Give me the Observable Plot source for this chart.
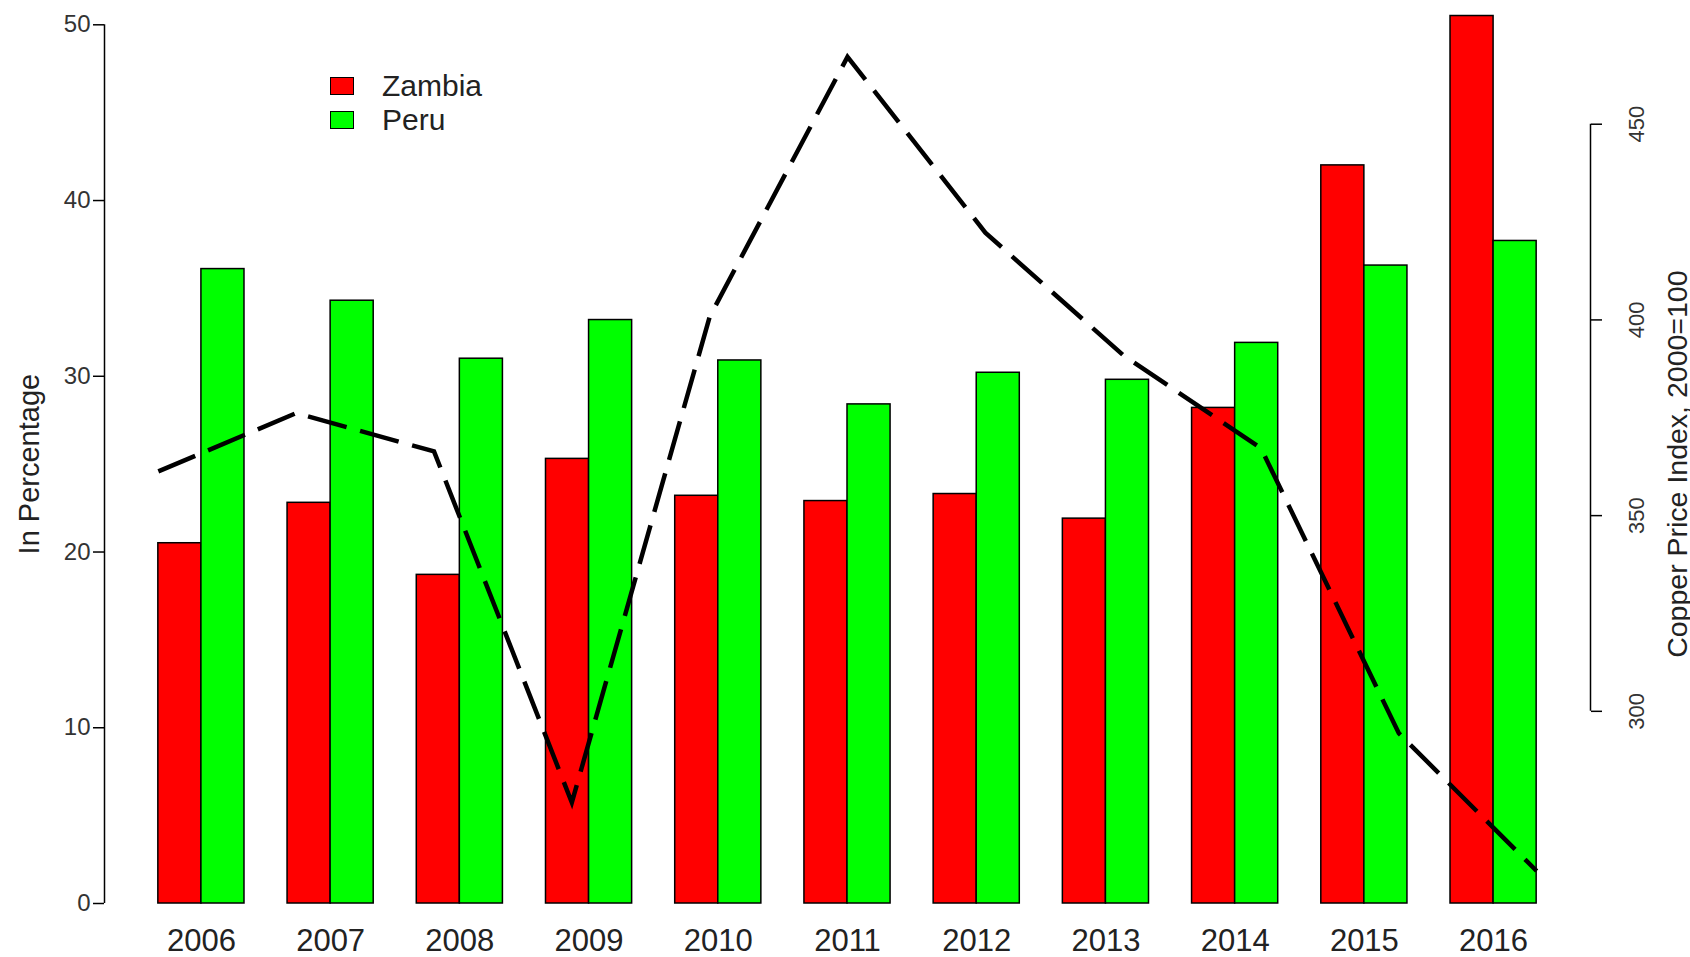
<!DOCTYPE html>
<html>
<head>
<meta charset="utf-8">
<script src="https://cdn.jsdelivr.net/npm/d3@7"></script>
<script src="https://cdn.jsdelivr.net/npm/@observablehq/plot@0.6"></script>
<style>
  html, body { margin: 0; padding: 0; background: #fff; }
  #wrap { position: relative; width: 1690px; height: 957px; font-family: "Liberation Sans", Arial, sans-serif; }
  #legend { position: absolute; left: 330px; top: 69px; font-size: 30px; color: #222; }
  .row { display: flex; align-items: center; height: 34px; }
  .sw { width: 24px; height: 18px; box-sizing: border-box; border: 1.5px solid #000; margin-right: 28px; }
</style>
</head>
<body>
<div id="wrap"><div id="legend"></div></div>
<script>
// ---- data ----
const years = ["2006","2007","2008","2009","2010","2011","2012","2013","2014","2015","2016"];
const zambia = [20.5, 22.8, 18.7, 25.3, 23.2, 22.9, 23.3, 21.9, 28.2, 42.0, 50.5];
const peru   = [36.1, 34.3, 31.0, 33.2, 30.9, 28.4, 30.2, 29.8, 31.9, 36.3, 37.7];
const copper = [361.3, 376.2, 366.4, 276.7, 400.8, 467.2, 422.3, 391.0, 367.2, 294.4, 259.2];
const leftTicks = [0, 10, 20, 30, 40, 50];
const copperTicks = [300, 350, 400, 450];
const seriesNames = ["Zambia", "Peru"];
const seriesColors = ["#ff0000", "#00ff00"];

// ---- scales config ----
const xDomain = [-0.25, 34.25];            // barplot units (group = 2 bars + 1 space)
const copperDomain = [250.9, 475.4];       // secondary axis range aligned with [0, 50]
const toPct = d3.scaleLinear(copperDomain, [0, 50]);

// ---- derived tables ----
const bars = years.flatMap((yr, i) => [
  {year: yr, series: seriesNames[0], value: zambia[i], x1: 1 + 3 * i, x2: 2 + 3 * i},
  {year: yr, series: seriesNames[1], value: peru[i],   x1: 2 + 3 * i, x2: 3 + 3 * i}
]);
const nBarsUnits = years.length * 3;
const line = copper.map((v, i) => ({year: years[i], x: 1 + i * (nBarsUnits - 1) / (copper.length - 1), v}));
const labels = years.map((yr, i) => ({year: yr, x: 2 + 3 * i}));

const chart = Plot.plot({
  width: 1690,
  height: 957,
  marginLeft: 104,
  marginRight: 100,
  marginTop: 24.3,
  marginBottom: 54,
  style: {fontFamily: "Liberation Sans, Arial, sans-serif", background: "#fff", color: "#222", overflow: "visible"},
  x: {domain: xDomain, axis: null},
  y: {domain: [0, 50]},
  color: {domain: seriesNames, range: seriesColors},
  marks: [
    Plot.rect(bars, {x1: "x1", x2: "x2", y1: 0, y2: "value", fill: "series", stroke: "#000", strokeWidth: 1.5}),
    Plot.line(line, {x: "x", y: d => toPct(d.v), stroke: "#000", strokeWidth: 4.5,
      strokeDasharray: "40,14", strokeLinecap: "butt", strokeLinejoin: "miter", strokeMiterlimit: 10}),
    // left axis
    Plot.ruleX([leftTicks], {x: () => xDomain[0], y1: d => d[0], y2: d => d[d.length - 1], stroke: "#000", strokeWidth: 1.5}),
    Plot.axisY({anchor: "left", ticks: leftTicks, tickSize: 11, tickPadding: 3, fontSize: 24,
      strokeWidth: 1.5, stroke: "#000", fill: "#333", tickFormat: d => String(d), label: null}),
    Plot.text(["In Percentage"], {text: d => d, frameAnchor: "left", dx: -86, rotate: -90,
      lineAnchor: "top", textAnchor: "middle", fontSize: 29, fill: "#222"}),
    // right (copper) axis
    Plot.ruleX([copperTicks], {x: () => xDomain[1], y1: d => toPct(d[0]), y2: d => toPct(d[d.length - 1]), stroke: "#000", strokeWidth: 1.5}),
    Plot.axisY({anchor: "right", ticks: copperTicks.map(toPct), tickSize: 11, strokeWidth: 1.5, stroke: "#000",
      tickFormat: () => "", label: null}),
    Plot.text(copperTicks, {y: d => toPct(d), text: d => String(d), frameAnchor: "right", dx: 38, rotate: -90,
      lineAnchor: "top", textAnchor: "middle", fontSize: 22, fill: "#333"}),
    Plot.text(["Copper Price Index, 2000=100"], {text: d => d, frameAnchor: "right", dx: 76, rotate: -90,
      lineAnchor: "top", textAnchor: "middle", fontSize: 28.5, fill: "#222"}),
    // category labels
    Plot.text(labels, {x: "x", text: "year", frameAnchor: "bottom", dy: 47, lineAnchor: "bottom",
      textAnchor: "middle", fontSize: 31, fill: "#222"})
  ]
});

const wrap = document.getElementById("wrap");
wrap.insertBefore(chart, wrap.firstChild);
chart.style.position = "absolute";
chart.style.left = "0";
chart.style.top = "0";

const legend = document.getElementById("legend");
seriesNames.forEach((name, i) => {
  const row = document.createElement("div");
  row.className = "row";
  const sw = document.createElement("div");
  sw.className = "sw";
  sw.style.background = seriesColors[i];
  const t = document.createElement("span");
  t.textContent = name;
  row.appendChild(sw);
  row.appendChild(t);
  legend.appendChild(row);
});
</script>
</body>
</html>
